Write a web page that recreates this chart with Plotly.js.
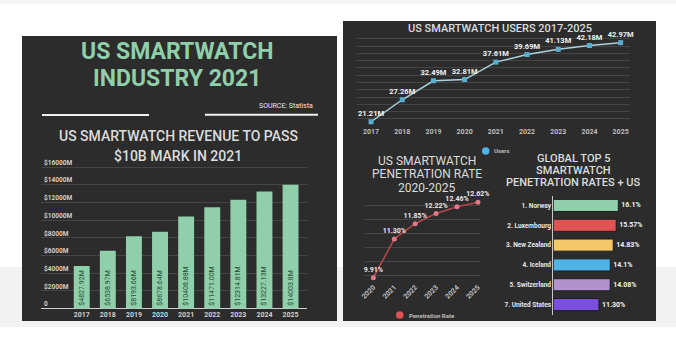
<!DOCTYPE html>
<html>
<head>
<meta charset="utf-8">
<script src="https://cdn.plot.ly/plotly-3.0.1.min.js"></script>
<style>html,body{margin:0;padding:0;background:#fff;}#chart{width:676px;height:339px;}</style>
</head>
<body>
<div id="chart"></div>
<script>
// ---- data ----
const years = ['2017','2018','2019','2020','2021','2022','2023','2024','2025'];
const revenue = [4827.92, 6538.97, 8193.66, 8678.64, 10408.88, 11471.00, 12314.81, 13227.13, 14003.8];
const revenueLabels = ['$4827.92M','$6538.97M','$8193.66M','$8678.64M','$10408.88M','$11471.00M','$12314.81M','$13227.13M','$14003.8M'];
const revTickVals = [0, 2000, 4000, 6000, 8000, 10000, 12000, 14000, 16000];
const revTickText = ['0','$2000M','$4000M','$6000M','$8000M','$10000M','$12000M','$14000M','$16000M'];

const users = [21.21, 27.26, 32.49, 32.81, 37.61, 39.69, 41.13, 42.18, 42.97];
const userLabels = ['21.21M','27.26M','32.49M','32.81M','37.61M','39.69M','41.13M','42.18M','42.97M'];

const penYears = ['2020','2021','2022','2023','2024','2025'];
const penRate = [9.91, 11.30, 11.85, 12.22, 12.46, 12.62];
const penLabels = ['9.91%','11.30%','11.85%','12.22%','12.46%','12.62%'];

const countries = ['1. Norway','2. Luxembourg','3. New Zealand','4. Iceland','5. Switzerland','7. United States'];
const countryRates = [16.1, 15.57, 14.83, 14.1, 14.08, 11.30];
const countryLabels = ['16.1%','15.57%','14.83%','14.1%','14.08%','11.30%'];
const countryColors = ['#8fcfa9','#e05353','#f4c869','#4fb4e4','#b192cf','#7a4fe0'];

// ---- helpers (pixel -> paper) ----
const W = 676, H = 339;
const X = p => p / W;
const Y = p => 1 - p / H;

const FONT = 'Roboto, "Open Sans", sans-serif';
const green = '#8fcfa9';
const panel = '#2c2c2c';
const grid = '#454545';

const traces = [
  {
    type: 'bar', x: years, y: revenue, text: revenueLabels,
    xaxis: 'x', yaxis: 'y',
    marker: {color: green},
    textposition: 'inside', insidetextanchor: 'start', textangle: -90,
    textfont: {color: '#1f4e37', size: 7, family: FONT},
    hoverinfo: 'skip'
  },
  {
    type: 'scatter', mode: 'lines+markers+text', x: years, y: users, text: userLabels,
    xaxis: 'x2', yaxis: 'y2',
    line: {color: '#a9d3e0', width: 1.5},
    marker: {color: '#5aaed0', size: 5, symbol: 'square'},
    textposition: 'top center',
    textfont: {color: '#f2f2f2', size: 7.5, family: FONT, weight: 700},
    cliponaxis: false
  },
  {
    type: 'scatter', mode: 'lines+markers+text', x: penYears, y: penRate, text: penLabels,
    xaxis: 'x3', yaxis: 'y3',
    line: {color: '#b8474c', width: 1.5},
    marker: {color: '#e27a86', size: 5},
    textposition: 'top center',
    textfont: {color: '#f0e6e6', size: 7, family: FONT, weight: 700},
    cliponaxis: false
  },
  {
    type: 'bar', orientation: 'h', x: countryRates, y: countries, text: countryLabels,
    xaxis: 'x4', yaxis: 'y4',
    marker: {color: countryColors, line: {color: '#1e1e1e', width: 1}},
    textposition: 'outside',
    textfont: {color: '#f2f2f2', size: 7, family: FONT, weight: 700},
    cliponaxis: false
  }
];

const axisBase = {showline: false, zeroline: false, ticks: '', fixedrange: true};

const layout = {
  width: W, height: H,
  margin: {l: 0, r: 0, t: 0, b: 0},
  paper_bgcolor: '#ffffff',
  plot_bgcolor: 'rgba(0,0,0,0)',
  showlegend: false,
  font: {family: FONT, color: '#d8d8d8'},
  bargap: 0.39,
  // revenue
  xaxis: Object.assign({}, axisBase, {
    domain: [X(41), X(307)], anchor: 'y', type: 'category',
    range: [-1.56, 8.63], showgrid: false,
    tickfont: {size: 7, color: '#cfcfcf', weight: 700}
  }),
  yaxis: Object.assign({}, axisBase, {
    domain: [Y(308.7), Y(158.2)], anchor: 'x', range: [0, 17000],
    tickvals: revTickVals, ticktext: revTickText,
    ticklabelposition: 'inside top',
    showgrid: true, gridcolor: grid, gridwidth: 1,
    zeroline: true, zerolinecolor: '#d0d0d0', zerolinewidth: 1,
    tickfont: {size: 6.5, color: '#cfcfcf', weight: 700}
  }),
  // users
  xaxis2: Object.assign({}, axisBase, {
    domain: [X(357), X(630)], anchor: 'y2', type: 'category',
    range: [-0.45, 8.3], showgrid: false,
    tickfont: {size: 7, color: '#bdbdbd', weight: 700}
  }),
  yaxis2: Object.assign({}, axisBase, {
    domain: [Y(126), Y(36)], anchor: 'x2', range: [20.04, 44.8],
    dtick: 2, tick0: 0, showgrid: true, gridcolor: grid, showticklabels: false
  }),
  // penetration
  xaxis3: Object.assign({}, axisBase, {
    domain: [X(365), X(480)], anchor: 'y3', type: 'category',
    range: [-0.4, 5.1], showgrid: false, tickangle: -45,
    tickfont: {size: 7, color: '#bdbdbd', weight: 700}
  }),
  yaxis3: Object.assign({}, axisBase, {
    domain: [Y(281), Y(198)], anchor: 'x3', range: [9.79, 12.775],
    dtick: 0.5, tick0: 0, showgrid: true, gridcolor: grid, showticklabels: false
  }),
  // top countries
  xaxis4: Object.assign({}, axisBase, {
    domain: [X(553.3), X(645)], anchor: 'y4', range: [0, 22.7],
    showgrid: false, showticklabels: false
  }),
  yaxis4: Object.assign({}, axisBase, {
    domain: [Y(314.5), Y(195.5)], anchor: 'x4', type: 'category',
    autorange: 'reversed', showline: true, linecolor: '#c8c8c8', linewidth: 1,
    tickfont: {size: 6.5, color: '#e6e6e6', weight: 700}
  }),
  shapes: [
    {type: 'rect', xref: 'paper', yref: 'paper', x0: X(0), x1: X(676), y0: Y(327), y1: Y(267), fillcolor: '#f2f2f2', line: {width: 0}, layer: 'below'},
    {type: 'rect', xref: 'paper', yref: 'paper', x0: X(0), x1: X(676), y0: Y(4), y1: Y(0), fillcolor: '#f4f4f4', line: {width: 0}, layer: 'below'},
    {type: 'rect', xref: 'paper', yref: 'paper', x0: X(22), x1: X(337), y0: Y(321), y1: Y(36), fillcolor: panel, line: {width: 0}, layer: 'below'},
    {type: 'rect', xref: 'paper', yref: 'paper', x0: X(343), x1: X(656), y0: Y(321), y1: Y(21), fillcolor: panel, line: {width: 0}, layer: 'below'},
    {type: 'line', xref: 'paper', yref: 'paper', x0: X(42), x1: X(149), y0: Y(115), y1: Y(115), line: {color: '#f2f2f2', width: 2}},
    {type: 'line', xref: 'paper', yref: 'paper', x0: X(205), x1: X(318), y0: Y(114.7), y1: Y(114.7), line: {color: '#f2f2f2', width: 2}},
    {type: 'circle', xref: 'paper', yref: 'paper', x0: X(482), x1: X(489.5), y0: Y(154.7), y1: Y(147.2), fillcolor: '#4fb4e4', line: {width: 0}},
    {type: 'circle', xref: 'paper', yref: 'paper', x0: X(396), x1: X(403.5), y0: Y(318.7), y1: Y(311.2), fillcolor: '#e05353', line: {width: 0}}
  ],
  annotations: [
    {xref: 'paper', yref: 'paper', x: X(177), y: Y(52), text: 'US SMARTWATCH', showarrow: false, font: {size: 23, color: green, weight: 700}, xanchor: 'center', yanchor: 'middle'},
    {xref: 'paper', yref: 'paper', x: X(177), y: Y(78), text: 'INDUSTRY 2021', showarrow: false, font: {size: 23, color: green, weight: 700}, xanchor: 'center', yanchor: 'middle'},
    {xref: 'paper', yref: 'paper', x: X(315), y: Y(106), text: 'SOURCE: Statista', showarrow: false, font: {size: 7, color: '#e8e8e8'}, xanchor: 'right', yanchor: 'middle'},
    {xref: 'paper', yref: 'paper', x: X(178), y: Y(136), text: 'US SMARTWATCH REVENUE TO PASS', showarrow: false, font: {size: 14, color: '#dcdcdc', weight: 500}, xanchor: 'center', yanchor: 'middle'},
    {xref: 'paper', yref: 'paper', x: X(178), y: Y(156), text: '$10B MARK IN 2021', showarrow: false, font: {size: 14, color: '#dcdcdc', weight: 500}, xanchor: 'center', yanchor: 'middle'},
    {xref: 'paper', yref: 'paper', x: X(500), y: Y(28.5), text: 'US SMARTWATCH USERS 2017-2025', showarrow: false, font: {size: 11, color: '#dcdcdc', weight: 500}, xanchor: 'center', yanchor: 'middle'},
    {xref: 'paper', yref: 'paper', x: X(492), y: Y(151), text: 'Users', showarrow: false, font: {size: 6, color: '#bdbdbd', weight: 700}, xanchor: 'left', yanchor: 'middle'},
    {xref: 'paper', yref: 'paper', x: X(427), y: Y(161), text: 'US SMARTWATCH', showarrow: false, font: {size: 12, color: '#dcdcdc'}, xanchor: 'center', yanchor: 'middle'},
    {xref: 'paper', yref: 'paper', x: X(427), y: Y(174.3), text: 'PENETRATION RATE', showarrow: false, font: {size: 12, color: '#dcdcdc'}, xanchor: 'center', yanchor: 'middle'},
    {xref: 'paper', yref: 'paper', x: X(427), y: Y(187.7), text: '2020-2025', showarrow: false, font: {size: 12, color: '#dcdcdc'}, xanchor: 'center', yanchor: 'middle'},
    {xref: 'paper', yref: 'paper', x: X(406.5), y: Y(315), text: 'Penetration Rate', showarrow: false, font: {size: 6, color: '#bdbdbd', weight: 700}, xanchor: 'left', yanchor: 'middle'},
    {xref: 'paper', yref: 'paper', x: X(573.3), y: Y(158.5), text: 'GLOBAL TOP 5', showarrow: false, font: {size: 11, color: '#dcdcdc', weight: 500}, xanchor: 'center', yanchor: 'middle'},
    {xref: 'paper', yref: 'paper', x: X(573.3), y: Y(170.5), text: 'SMARTWATCH', showarrow: false, font: {size: 11, color: '#dcdcdc', weight: 500}, xanchor: 'center', yanchor: 'middle'},
    {xref: 'paper', yref: 'paper', x: X(573.3), y: Y(182.5), text: 'PENETRATION RATES + US', showarrow: false, font: {size: 11, color: '#dcdcdc', weight: 500}, xanchor: 'center', yanchor: 'middle'}
  ]
};

Plotly.newPlot('chart', traces, layout, {staticPlot: true, displayModeBar: false});
</script>
</body>
</html>
